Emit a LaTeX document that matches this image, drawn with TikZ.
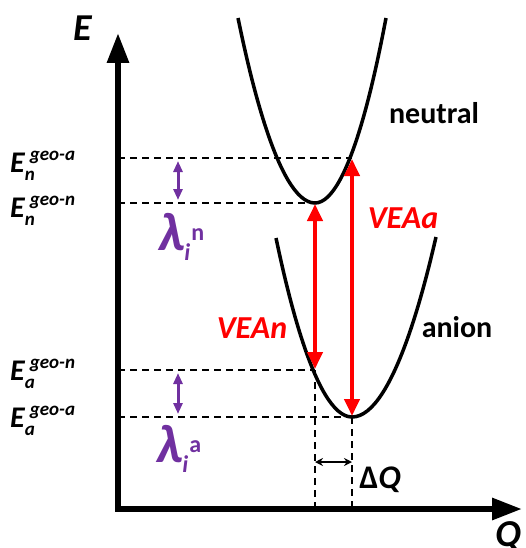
\documentclass[tikz,border=0pt]{standalone}
\usepackage{fontspec}
\setmainfont{Carlito}
\usetikzlibrary{arrows.meta}
\definecolor{veared}{RGB}{255,0,0}
\definecolor{lampurple}{RGB}{112,48,160}
\newcommand{\enlev}[2]{E\rlap{\raisebox{-8pt}{\fontsize{19}{19}\selectfont #1}}\hspace{5pt}\raisebox{12pt}{\fontsize{19}{19}\selectfont #2}}
\newcommand{\lamlev}[1]{λ\rlap{\raisebox{-10pt}{\fontsize{24}{24}\selectfont i}}\hspace{7pt}\raisebox{10pt}{\fontsize{24}{24}\selectfont\upshape #1}}
\tikzset{
  axisline/.style={line width=6pt,-{Triangle[width=21pt,length=30pt]}},
  level/.style={line width=1.4pt,dash pattern=on 7pt off 5pt},
  pes/.style={line width=3.5pt},
  vea/.style={line width=4pt,veared,shorten <=1pt,shorten >=1pt,{Triangle[width=15pt,length=17pt]}-{Triangle[width=15pt,length=17pt]}},
  relax/.style={line width=3pt,lampurple,{Triangle[width=9pt,length=11pt]}-{Triangle[width=9pt,length=11pt]}},
  elab/.style={font=\fontsize{30}{30}\selectfont\bfseries\itshape,anchor=base west,inner sep=0pt},
  lamlab/.style={font=\fontsize{54}{54}\selectfont\bfseries\itshape,text=lampurple,anchor=base west,inner sep=0pt},
  txt/.style={font=\fontsize{30}{30}\selectfont\bfseries,inner sep=0pt},
  vealab/.style={font=\fontsize{32}{32}\selectfont\bfseries\itshape,text=veared,inner sep=0pt},
}
\begin{document}
\begin{tikzpicture}[x=1pt,y=-1pt]
\useasboundingbox (0,0) rectangle (525,548);
% key points of the two curves
\coordinate (O) at (118,509);
\coordinate (nmin) at (315,203);
\coordinate (ntop) at (352,158);
\coordinate (amin) at (352,417);
\coordinate (aside) at (315,370);
% potential energy curves
\draw[pes] (238,18) parabola bend (nmin) (386,18);
\draw[pes] (276,238) parabola bend (amin) (436,237);
% energy levels
\foreach \p in {ntop,nmin,aside,amin} \draw[level] (O |- \p) -- (\p);
\draw[level] (aside) -- (aside |- O);
\draw[level] (amin) -- (amin |- O);
% axes
\draw[axisline] (O) -- (118,33);
\draw[axisline] (115,509) -- (522,509);
\node[font=\fontsize{38}{38}\selectfont\bfseries\itshape,inner sep=0pt] (elabel) at (83,28) {E};
\node[font=\fontsize{38}{38}\selectfont\bfseries\itshape,inner sep=0pt] (qlabel) at (508,536) {Q};
% vertical electron affinities
\draw[vea] (ntop) -- (amin);
\draw[vea] (nmin) -- (aside);
\node[vealab] (veaa) at (403,218) {VEAa};
\node[vealab] (vean) at (252,328) {VEAn};
% relaxation energies
\coordinate (rn1) at (178,161); \coordinate (rn2) at (178,200);
\coordinate (ra1) at (178,373); \coordinate (ra2) at (178,414);
\draw[relax] (rn1) -- (rn2);
\draw[relax] (ra1) -- (ra2);
\node[lamlab] (lamn) at (158,250) {\lamlev{n}};
\node[lamlab] (lama) at (156,462) {\lamlev{a}};
% level labels
\node[elab] (engeoa) at (10,172) {\enlev{n}{geo-a}};
\node[elab] (engeon) at (10,217) {\enlev{n}{geo-n}};
\node[elab] (eageon) at (10,380) {\enlev{a}{geo-n}};
\node[elab] (eageoa) at (10,427) {\enlev{a}{geo-a}};
% shift of the minimum
\coordinate (dq1) at (aside |- 0,462);
\coordinate (dq2) at (amin |- 0,462);
\draw[line width=1.5pt,{Stealth[length=8pt,width=8pt]}-{Stealth[length=8pt,width=8pt]}] (dq1) -- (dq2);
\node[txt,font=\fontsize{33}{33}\selectfont\bfseries] (dqlabel) at (380,480) {Δ\textit{Q}};
% curve names
\node[txt] (neutral) at (434,113) {neutral};
\node[txt] (anion) at (457,327) {anion};
\end{tikzpicture}
\end{document}
